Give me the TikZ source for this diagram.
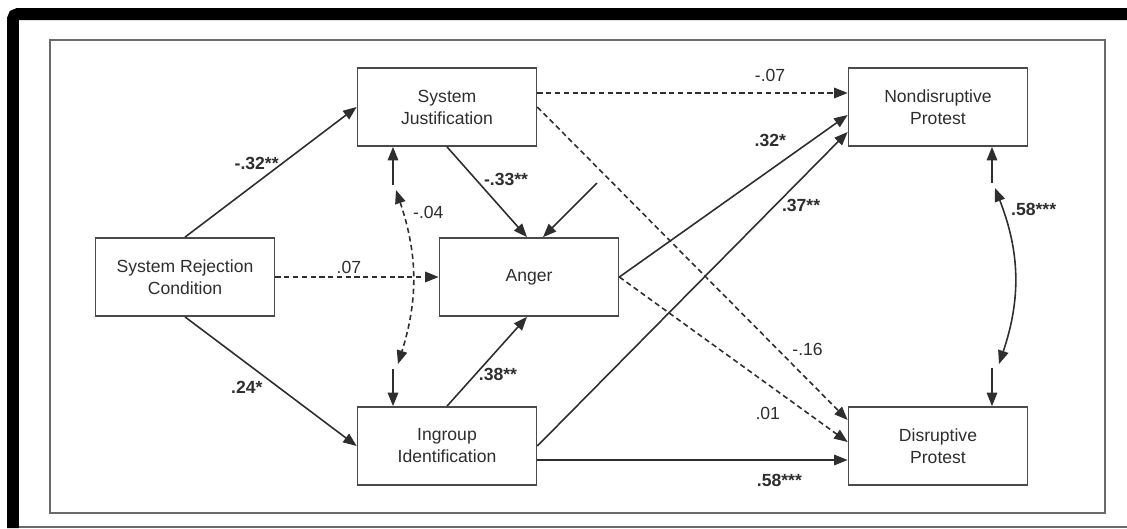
\documentclass[tikz,border=0pt]{standalone}
\usepackage{fontspec}
\setmainfont{Liberation Sans}
\usepackage{xcolor}
\usetikzlibrary{arrows.meta,calc}

\definecolor{inkgray}{HTML}{2E2E2E}
\definecolor{boxgray}{HTML}{4A4A4A}
\definecolor{framegray}{HTML}{6A6A6A}

\begin{document}
\begin{tikzpicture}[x=0.02cm, y=-0.02cm,
    var/.style={draw=boxgray, line width=1pt, fill=white, minimum width=3.58cm, minimum height=1.56cm, inner sep=2pt, align=center, font=\fontsize{10}{12.5}\selectfont, text=inkgray},
    arr/.style={-{Triangle[length=0.27cm,width=0.21cm]}, line width=0.9pt, draw=inkgray, #1},
    arr/.default={solid},
    cov/.style={{Triangle[length=0.27cm,width=0.21cm]}-{Triangle[length=0.27cm,width=0.21cm]}, line width=0.9pt, draw=inkgray, #1},
    cov/.default={solid},
    lbl/.style={font=\fontsize{10}{12}\selectfont, text=inkgray, inner sep=1pt},
    sig/.style={lbl, font=\fontsize{10}{12}\selectfont\bfseries},
]
\useasboundingbox (0,0) rectangle (1127,528);
\fill[white] (0,0) rectangle (1127,528);

% ===== FRAME =====
\draw[line width=0.24cm, rounded corners=0.1cm] (13,528) -- (13,14) -- (1127,14);
\draw[framegray, line width=0.6pt] (19,527) -- (1127,527);
\draw[framegray, line width=0.8pt] (50,40) rectangle (1105,513);

% ===== VARIABLES =====
\node[var] (src) at (185,277) {System Rejection\\Condition};
\node[var] (sj) at (447,107) {System\\Justification};
\node[var] (ang) at (529,277) {Anger};
\node[var] (ig) at (447,446) {Ingroup\\Identification};
\node[var] (np) at (938,107) {Nondisruptive\\Protest};
\node[var] (dp) at (938,446) {Disruptive\\Protest};

\coordinate (e1) at (597,183);
\coordinate (sjcov) at (393,185);
\coordinate (igcov) at (393,369);
\coordinate (sjcurve) at (396,190);
\coordinate (igcurve) at (398,364);
\coordinate (npcov) at (992,183);
\coordinate (dpcov) at (992,368);
\coordinate (npcurve) at (995,188);
\coordinate (dpcurve) at (999,364);

% ===== ARROWS =====
\draw[arr] (src.north) -- (sj.west) node[sig, pos=0.4, xshift=0.06cm, yshift=0.44cm] {-.32**};
\draw[arr] (src.south) -- (ig.west) node[sig, pos=0.36, yshift=-0.48cm] {.24*};
\draw[arr=densely dashed] (src.east) -- (ang.west) node[lbl, pos=0.45, yshift=0.2cm] {.07};
\draw[arr] (sj.south) -- ([xshift=-0.04cm]ang.north) node[sig, pos=0.4, xshift=0.54cm, yshift=0.08cm] {-.33**};
\draw[arr] (e1) -- ([xshift=0.28cm]ang.north);
\draw[arr] (ig.north) -- ([xshift=-0.04cm]ang.south) node[sig, pos=0.35, xshift=0.46cm] {.38**};

\draw[arr=densely dashed] ([yshift=0.28cm]sj.east) -- ([yshift=0.28cm]np.west) node[lbl, pos=0.75, yshift=0.36cm] {-.07};
\draw[arr=densely dashed] (sj.east) -- ([yshift=0.52cm]dp.west) node[lbl, pos=0.8, xshift=0.44cm, yshift=0.15cm] {-.16};
\draw[arr] (ang.east) -- ([yshift=-0.16cm]np.west) node[sig, pos=0.67, xshift=-0.04cm, yshift=0.57cm] {.32*};
\draw[arr=densely dashed] (ang.east) -- ([yshift=0.08cm]dp.west) node[lbl, pos=0.65, yshift=-0.58cm] {.01};
\draw[arr] (ig.east) -- ([yshift=-0.5cm]np.west) node[sig, pos=0.85, yshift=-0.52cm] {.37**};
\draw[arr] ([yshift=-0.28cm]ig.east) -- ([yshift=-0.28cm]dp.west) node[sig, pos=0.78, yshift=-0.4cm] {.58***};

% covariances
\draw[arr] (sjcov) -- (sjcov |- sj.south);
\draw[arr] (igcov) -- (igcov |- ig.north);
\draw[cov=densely dashed] (sjcurve) to[bend left=18] node[lbl, pos=0.15, xshift=0.48cm, yshift=0.1cm] {-.04} (igcurve);
\draw[arr] (npcov) -- (npcov |- np.south);
\draw[arr] (dpcov) -- (dpcov |- dp.north);
\draw[cov] (npcurve) to[bend left=20] node[sig, pos=0.15, xshift=0.58cm, yshift=0.12cm] {.58***} (dpcurve);

\end{tikzpicture}
\end{document}
